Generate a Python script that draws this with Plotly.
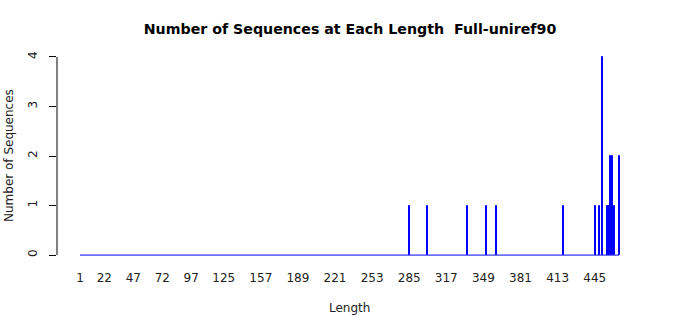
import plotly.graph_objects as go

# Sequence lengths with non-zero counts, and their counts
lengths = [285, 301, 335, 352, 360, 418, 446, 449, 452, 456, 457, 458, 459, 460, 462, 466]
counts = [1, 1, 1, 1, 1, 1, 1, 1, 4, 1, 1, 1, 2, 2, 1, 2]
# full range of length categories shown on the axis
min_length = 1
max_length = 466
x_tick_labels = [1, 22, 47, 72, 97, 125, 157, 189, 221, 253, 285, 317, 349, 381, 413, 445]
y_tick_values = [0, 1, 2, 3, 4]

FONT = "DejaVu Sans"
BLUE = "#0000ff"
FILL = "#2a00d0"

fig = go.Figure()

# zero-height bars (R draws their borders as a baseline)
fig.add_trace(go.Scatter(
    x=[min_length, max_length], y=[0, 0], mode="lines",
    line=dict(color=BLUE, width=1), hoverinfo="skip", showlegend=False))

fig.add_trace(go.Bar(
    x=lengths, y=counts, width=0.83,
    marker=dict(color=FILL, line=dict(color=BLUE, width=1)),
    showlegend=False))

fig.update_layout(
    width=700, height=315,
    margin=dict(l=57, r=58, t=49, b=52),
    paper_bgcolor="white", plot_bgcolor="white",
    font=dict(family=FONT, size=12, color="black"),
    title=dict(text="<b>Number of Sequences at Each Length  Full-uniref90</b>",
               x=0.5, xanchor="center", xref="container",
               y=1 - 29 / 315, yanchor="middle", yref="container",
               font=dict(family=FONT, size=14.2, color="black")),
    bargap=0,
    xaxis=dict(
        range=[-18.8, 485.8],
        tickmode="array", tickvals=x_tick_labels,
        ticktext=[str(v) for v in x_tick_labels],
        ticks="outside", ticklen=4, tickcolor="rgba(0,0,0,0)",
        showgrid=False, zeroline=False, showline=False,
        tickfont=dict(family=FONT, size=12, color="#222"),
    ),
    yaxis=dict(
        range=[-0.16, 4.16],
        tickmode="array", tickvals=y_tick_values,
        ticktext=[str(v) for v in y_tick_values],
        ticks="outside", ticklen=7, tickcolor="black", tickwidth=1,
        tickangle=-90, ticklabelstandoff=7,
        showgrid=False, zeroline=False, showline=False,
        tickfont=dict(family=FONT, size=12, color="#222"),
    ),
    annotations=[
        dict(text="Number of Sequences", textangle=-90,
             xref="paper", x=0, xshift=-48, xanchor="center",
             yref="paper", y=0.5, yanchor="middle", showarrow=False,
             font=dict(family=FONT, size=12, color="#222")),
        dict(text="Length",
             xref="paper", x=0.5, xanchor="center",
             yref="paper", y=0, yshift=-45, yanchor="middle", showarrow=False,
             font=dict(family=FONT, size=12, color="#222")),
    ],
    shapes=[dict(type="line", xref="paper", x0=0, x1=0,
                 yref="y", y0=y_tick_values[0], y1=y_tick_values[-1],
                 line=dict(color="black", width=1))],
)

fig.write_html("out.html")
